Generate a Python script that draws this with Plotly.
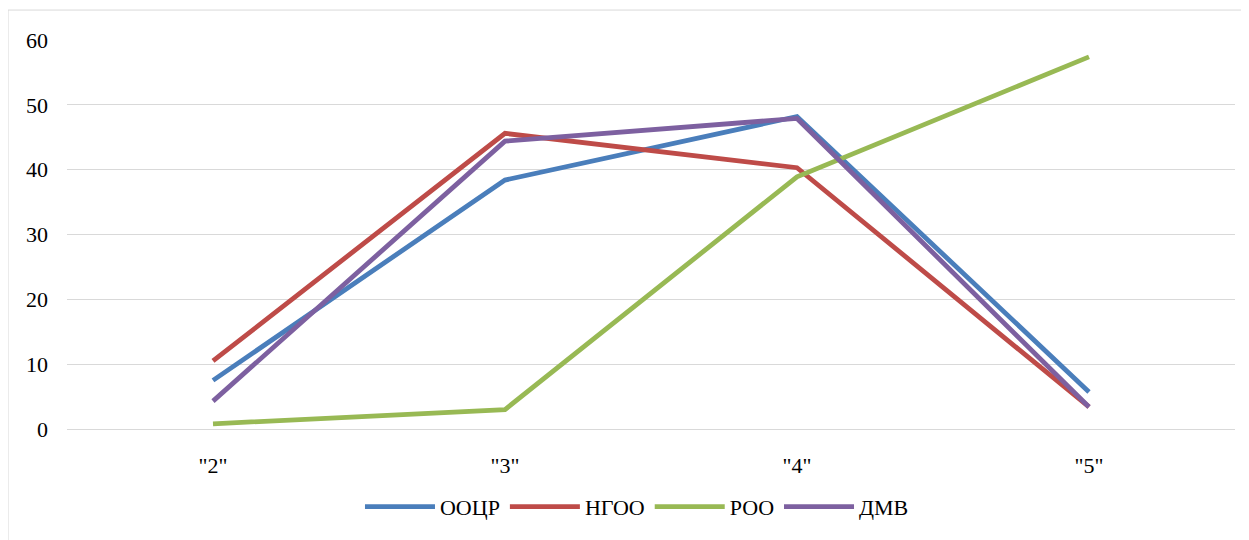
import plotly.graph_objects as go

categories = ['"2"', '"3"', '"4"', '"5"']
oocr = [7.5, 38.4, 48.2, 5.7]
ngoo = [10.5, 45.6, 40.3, 3.4]
roo = [0.8, 3.0, 38.9, 57.4]
dmv = [4.3, 44.4, 47.9, 3.4]

series = [
    ("ООЦР", oocr, "#4a7ebb"),
    ("НГОО", ngoo, "#be4b48"),
    ("РОО", roo, "#98b954"),
    ("ДМВ", dmv, "#7d60a0"),
]

fig = go.Figure()
for name, vals, color in series:
    fig.add_trace(go.Scatter(
        x=categories, y=vals, name=name, mode="lines",
        line=dict(color=color, width=4.8),
    ))

font = dict(family="Times New Roman, Liberation Serif, DejaVu Serif, serif", size=22, color="#000000")

fig.update_layout(
    width=1249, height=540,
    margin=dict(l=59, r=22, t=32, b=119, autoexpand=False),
    paper_bgcolor="white", plot_bgcolor="white",
    font=font,
    showlegend=True,
    legend=dict(orientation="h", x=0.488, xanchor="center", y=-0.2, yanchor="middle",
                font=font, itemwidth=70, tracegroupgap=0),
    xaxis=dict(type="category", range=[-0.5, 3.5], showgrid=False,
               showline=True, linecolor="#d9d9d9", linewidth=1,
               ticks="", ticklabelstandoff=17, tickfont=font),
    yaxis=dict(range=[0, 60], dtick=10, showgrid=True, gridcolor="#d9d9d9",
               gridwidth=1, zeroline=False, showline=False,
               ticks="", ticklabelstandoff=18, tickfont=font),
    shapes=[dict(type="rect", xref="paper", yref="paper",
                 x0=-0.0505, x1=1.007, y0=-0.4, y1=1.077,
                 line=dict(color="#d9d9d9", width=1), layer="below")],
)

fig.write_html("out.html")
